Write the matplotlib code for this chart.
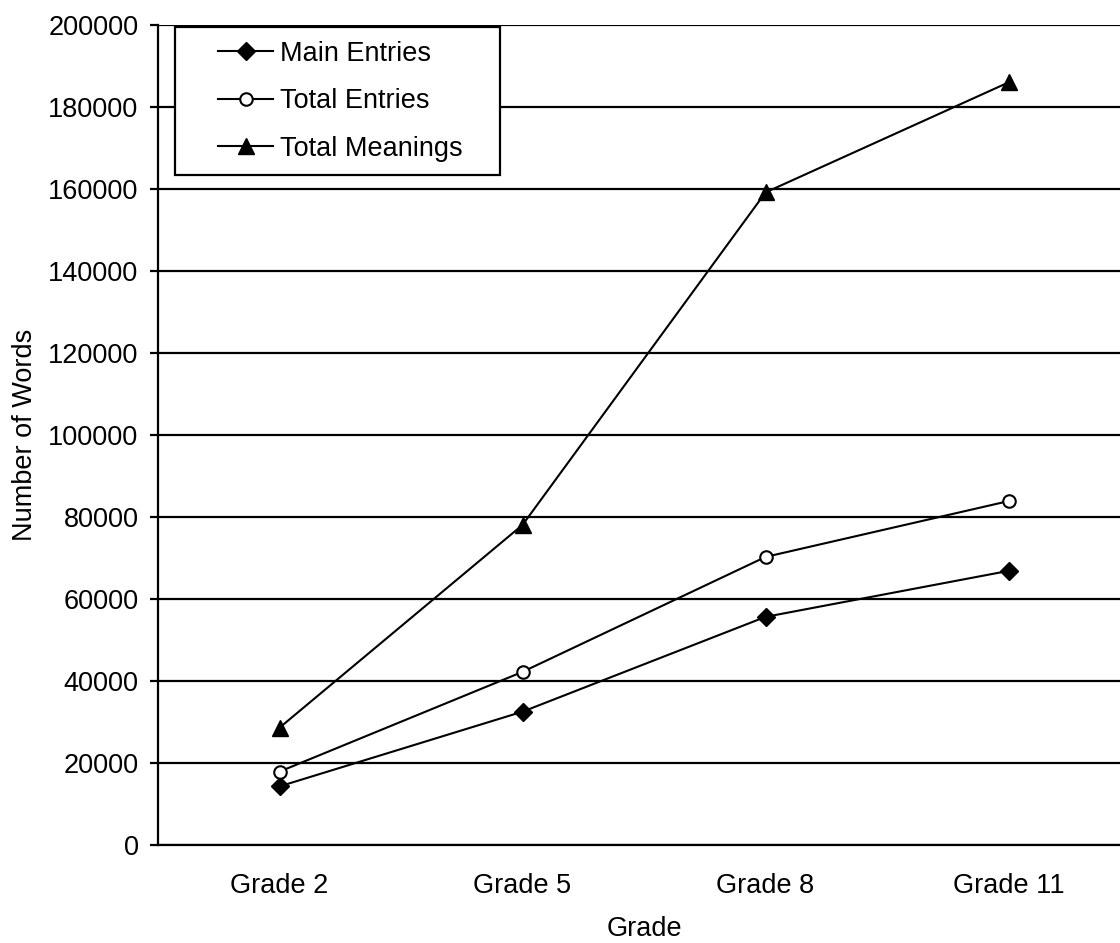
import matplotlib
matplotlib.use('Agg')
import matplotlib.pyplot as plt
from matplotlib.lines import Line2D
from matplotlib.legend_handler import HandlerLine2D
import numpy as np

# values
grades = ['Grade 2', 'Grade 5', 'Grade 8', 'Grade 11']
main_entries = [14400, 32600, 55700, 66900]
total_entries = [18000, 42300, 70300, 83900]
total_meanings = [28700, 78100, 159100, 185900]

plt.rcParams['font.family'] = ['Liberation Sans', 'DejaVu Sans']
fs = 19.5

fig = plt.figure(figsize=(11.2, 9.43), dpi=100)
ax = fig.add_axes([0.1411, 0.1034, 0.8679, 0.8706])

x = np.arange(len(grades))
ax.plot(x, main_entries, color='black', lw=1.5, marker='D', ms=9.5,
        mfc='black', mec='black', label='Main Entries')
ax.plot(x, total_entries, color='black', lw=1.5, marker='o', ms=9,
        mfc='white', mec='black', mew=1.5, label='Total Entries')
ax.plot(x, total_meanings, color='black', lw=1.5, marker='^', ms=11,
        mfc='black', mec='black', label='Total Meanings')

ax.set_xlim(-0.5, 3.5)
ax.set_ylim(0, 200000)
ax.set_yticks(np.arange(0, 200001, 20000))
ax.set_xticks(x)
ax.set_xticklabels(grades)
ax.grid(axis='y', color='black', lw=1.6)
ax.set_axisbelow(True)

for s in ['top', 'right']:
    ax.spines[s].set_visible(False)
for s in ['left', 'bottom']:
    ax.spines[s].set_linewidth(1.6)

ax.tick_params(axis='y', direction='out', length=6, width=1.6, labelsize=fs, pad=8)
ax.tick_params(axis='x', length=0, labelsize=fs, pad=20)

ax.set_xlabel('Grade', fontsize=fs, labelpad=12)
ax.set_ylabel('Number of Words', fontsize=fs, labelpad=7)

# legend box: wide side padding like the original
leg = ax.legend(loc='upper left', bbox_to_anchor=(0.0175, 0.8170, 0.3344, 0.18),
                mode='expand', fontsize=fs,
                fancybox=False, framealpha=1, edgecolor='black',
                borderpad=0.5, labelspacing=0.8, handlelength=3.13, handletextpad=0.26,
                borderaxespad=0, handler_map={Line2D: HandlerLine2D(xpad=1.1)})
leg.get_frame().set_linewidth(1.6)

fig.savefig('out.png', dpi=100)
